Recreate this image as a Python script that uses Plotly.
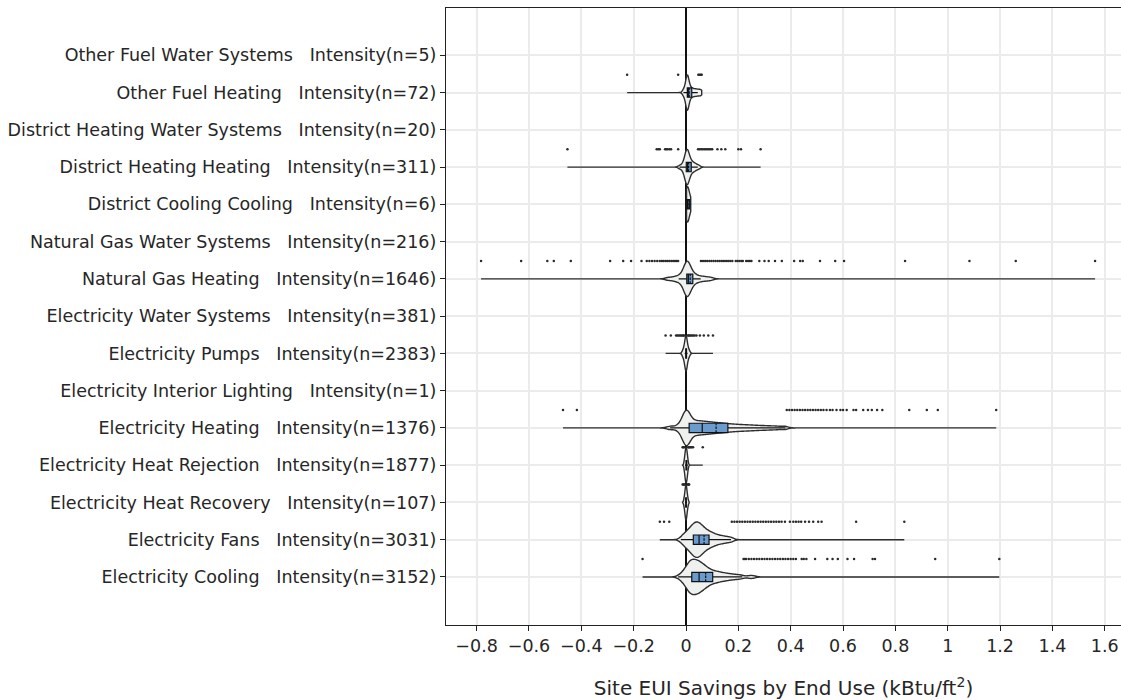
import plotly.graph_objects as go

# ---------------- categories (bottom -> top) ----------------
end_uses = [
    "Electricity Cooling", "Electricity Fans", "Electricity Heat Recovery",
    "Electricity Heat Rejection", "Electricity Heating", "Electricity Interior Lighting",
    "Electricity Pumps", "Electricity Water Systems", "Natural Gas Heating",
    "Natural Gas Water Systems", "District Cooling Cooling", "District Heating Heating",
    "District Heating Water Systems", "Other Fuel Heating", "Other Fuel Water Systems",
]
counts = [3152, 3031, 107, 1877, 1376, 1, 2383, 381, 1646, 216, 6, 311, 20, 72, 5]

# ---------------- representative core samples (kBtu/ft2) ----------------
cooling_core = [-0.02, -0.008, -0.001, 0.004, 0.008, 0.011, 0.014, 0.017, 0.019, 0.021,
                0.024, 0.027, 0.030, 0.033, 0.036, 0.039, 0.042, 0.045, 0.048, 0.051,
                0.054, 0.057, 0.061, 0.065, 0.069, 0.073, 0.078, 0.083, 0.089, 0.096,
                0.104, 0.112, 0.121, 0.131, 0.142, 0.155, 0.170, 0.188, 0.21, 0.25]
fans_core = [-0.015, -0.005, 0.002, 0.008, 0.013, 0.018, 0.022, 0.026, 0.029, 0.032,
             0.035, 0.038, 0.041, 0.044, 0.047, 0.050, 0.053, 0.056, 0.060, 0.064,
             0.068, 0.073, 0.078, 0.084, 0.090, 0.097, 0.105, 0.114, 0.125, 0.138,
             0.153, 0.172]
heat_recovery_core = [-0.006, -0.003, -0.001, 0.0, 0.0, 0.001, 0.003, 0.006]
heat_rejection_core = [-0.005, -0.003, -0.001, 0.0, 0.001, 0.002, 0.004, 0.006]
elec_heating_core = [-0.06, -0.03, -0.015, -0.008, -0.004, -0.002, 0.0, 0.001, 0.002, 0.003,
                     0.004, 0.005, 0.007, 0.015, 0.022, 0.030, 0.037, 0.045, 0.052, 0.060,
                     0.068, 0.076, 0.085, 0.094, 0.103, 0.113, 0.123, 0.134, 0.145, 0.157,
                     0.170, 0.184, 0.199, 0.215, 0.232, 0.250, 0.270, 0.292, 0.316, 0.343,
                     0.375]
lighting_core = [0.0]
pumps_core = [-0.012, -0.007, -0.004, -0.002, -0.001, 0.0, 0.0, 0.001, 0.002, 0.004,
              0.007, 0.012]
elec_water_core = [0.0, 0.0, 0.0]
ng_heating_core = [-0.07, -0.05, -0.036, -0.026, -0.018, -0.012, -0.007, -0.003, -0.001, 0.0,
                   0.001, 0.002, 0.003, 0.004, 0.005, 0.006, 0.007, 0.009, 0.011, 0.013,
                   0.016, 0.019, 0.023, 0.028, 0.034, 0.042, 0.052, 0.064, 0.078, 0.095]
ng_water_core = [0.0, 0.0, 0.0]
dc_cooling_core = [0.002, 0.003, 0.005, 0.007, 0.011, 0.018]
dh_heating_core = [-0.025, -0.015, -0.01, -0.006, -0.004, -0.002, -0.001, 0.0, 0.001, 0.002,
                   0.003, 0.004, 0.005, 0.006, 0.007, 0.008, 0.009, 0.010, 0.012, 0.014,
                   0.016, 0.019, 0.022, 0.026, 0.030, 0.035, 0.041, 0.050]
dh_water_core = [0.0, 0.0, 0.0]
of_heating_core = [-0.01, -0.004, 0.0, 0.002, 0.003, 0.004, 0.005, 0.006, 0.007, 0.008,
                   0.010, 0.013, 0.017, 0.022, 0.028, 0.035, 0.042, 0.050, 0.058]
of_water_core = [0.0, 0.0, 0.0]

# ---------------- outliers ----------------
cooling_out = [-0.166, 0.22, 0.225, 0.23, 0.24, 0.25, 0.26, 0.27, 0.28, 0.29, 0.30, 0.31,
               0.32, 0.33, 0.34, 0.35, 0.36, 0.37, 0.38, 0.39, 0.40, 0.41, 0.42, 0.442,
               0.45, 0.46, 0.493, 0.54, 0.56, 0.58, 0.617, 0.642, 0.713, 0.722, 0.952, 1.197]
fans_out = [-0.10, -0.084, -0.064, 0.175, 0.185, 0.195, 0.205, 0.215, 0.225, 0.235, 0.245,
            0.255, 0.265, 0.275, 0.285, 0.295, 0.305, 0.315, 0.325, 0.335, 0.345, 0.355,
            0.365, 0.378, 0.397, 0.41, 0.42, 0.43, 0.44, 0.455, 0.47, 0.486, 0.505, 0.518,
            0.65, 0.834]
heat_recovery_out = [-0.013, -0.01, -0.008, -0.006, 0.006, 0.008, 0.01, 0.012]
heat_rejection_out = [-0.013, -0.01, -0.007, 0.008, 0.011, 0.014, 0.018, 0.022, 0.027, 0.064]
elec_heating_out = [-0.47, -0.417, 0.385, 0.395, 0.405, 0.415, 0.425, 0.435, 0.445, 0.455,
                    0.465, 0.475, 0.485, 0.495, 0.505, 0.515, 0.525, 0.537, 0.55, 0.56,
                    0.575, 0.59, 0.60, 0.614, 0.64, 0.65, 0.677, 0.695, 0.71, 0.73, 0.75,
                    0.853, 0.92, 0.962, 1.185]
lighting_out = []
pumps_out = [-0.078, -0.058, -0.038, -0.033, -0.028, -0.023, -0.018, -0.014, -0.01, -0.007,
             0.007, 0.01, 0.014, 0.018, 0.023, 0.028, 0.033, 0.04, 0.053, 0.068, 0.085, 0.103]
elec_water_out = []
ng_heating_out = [-0.783, -0.63, -0.53, -0.505, -0.44, -0.29, -0.24, -0.21, -0.17, -0.15,
                  -0.14, -0.13, -0.12, -0.11, -0.10, -0.092, -0.085, -0.077, -0.07, -0.063,
                  -0.056, -0.049, -0.042, -0.036, -0.03, 0.057, 0.065, 0.073, 0.081, 0.089,
                  0.097, 0.105, 0.113, 0.121, 0.129, 0.137, 0.145, 0.153, 0.161, 0.169,
                  0.177, 0.19, 0.197, 0.204, 0.211, 0.217, 0.23, 0.237, 0.244, 0.25, 0.28,
                  0.30, 0.316, 0.34, 0.366, 0.413, 0.436, 0.446, 0.512, 0.57, 0.604, 0.837,
                  1.083, 1.26, 1.563]
ng_water_out = []
dc_cooling_out = []
dh_heating_out = [-0.453, -0.112, -0.106, -0.10, -0.08, -0.075, -0.07, -0.063, -0.057, -0.03,
                  0.046, 0.052, 0.058, 0.064, 0.07, 0.076, 0.082, 0.088, 0.094, 0.10, 0.12,
                  0.135, 0.15, 0.20, 0.21, 0.285]
dh_water_out = []
of_heating_out = [-0.225, -0.03, 0.047, 0.052, 0.057, 0.06]
of_water_out = []

# ---------------- box statistics ----------------
q1 = [0.022, 0.028, -0.001, 0.0, 0.012, 0.0, -0.001, 0.0, 0.003, 0.0, 0.003, 0.001, 0.0, 0.005, 0.0]
median = [0.05, 0.05, 0.0, 0.001, 0.062, 0.0, 0.0, 0.0, 0.009, 0.0, 0.006, 0.006, 0.0, 0.008, 0.0]
q3 = [0.102, 0.088, 0.001, 0.003, 0.16, 0.0, 0.002, 0.0, 0.026, 0.0, 0.014, 0.02, 0.0, 0.022, 0.0]
means = [0.075, 0.069, 0.0, 0.002, 0.115, 0.0, 0.001, 0.0, 0.016, 0.0, 0.008, 0.01, 0.0, 0.012, 0.0]
low_whisker = [-0.03, -0.02, -0.004, -0.004, -0.061, 0.0, -0.005, 0.0, -0.028, 0.0, 0.002,
               -0.025, 0.0, -0.01, 0.0]
high_whisker = [0.215, 0.172, 0.004, 0.007, 0.38, 0.0, 0.006, 0.0, 0.056, 0.0, 0.018, 0.045,
                0.0, 0.045, 0.0]
bandwidths = [0.014, 0.012, 0.003, 0.003, 0.014, 0.0, 0.004, 0.0, 0.011, 0.0, 0.006, 0.006,
              0.0, 0.005, 0.0]

core_lists = [cooling_core, fans_core, heat_recovery_core, heat_rejection_core,
              elec_heating_core, lighting_core, pumps_core, elec_water_core, ng_heating_core,
              ng_water_core, dc_cooling_core, dh_heating_core, dh_water_core, of_heating_core,
              of_water_core]
outlier_lists = [cooling_out, fans_out, heat_recovery_out, heat_rejection_out, elec_heating_out,
                 lighting_out, pumps_out, elec_water_out, ng_heating_out, ng_water_out,
                 dc_cooling_out, dh_heating_out, dh_water_out, of_heating_out, of_water_out]

labels = [f"{name}   Intensity(n={n})" for name, n in zip(end_uses, counts)]

fig = go.Figure()
for i, (core, outs) in enumerate(zip(core_lists, outlier_lists)):
    allv = core + outs
    lo, hi = min(allv), max(allv)
    if hi > lo:
        fig.add_trace(go.Violin(
            x=core, y0=i, orientation="h", width=0.95, side="both",
            spanmode="manual", span=[lo, hi], bandwidth=bandwidths[i],
            points=False, box_visible=False, meanline_visible=False,
            fillcolor="#eff1ef", line=dict(color="#2e2e2e", width=1.4),
            scalemode="width", hoverinfo="skip", showlegend=False))
    fig.add_trace(go.Box(
        y=[i], q1=[q1[i]], median=[median[i]], q3=[q3[i]], mean=[means[i]],
        lowerfence=[low_whisker[i]], upperfence=[high_whisker[i]],
        orientation="h", width=0.25, whiskerwidth=0, boxmean=True, boxpoints=False,
        fillcolor="#6a9bcf", line=dict(color="#111111", width=1.2),
        hoverinfo="skip", showlegend=False))
    if outs:
        fig.add_trace(go.Scatter(
            x=outs, y=[i + 0.48] * len(outs), mode="markers",
            marker=dict(size=2.5, color="#2a2a2a", line=dict(width=0)),
            hoverinfo="skip", showlegend=False))

font_family = "DejaVu Sans"
fig.update_layout(
    width=1121, height=700,
    margin=dict(l=446, r=0, t=8, b=75),
    paper_bgcolor="white", plot_bgcolor="white",
    violinmode="overlay", boxmode="overlay",
    font=dict(family=font_family, size=16, color="#262626"),
    showlegend=False,
)
fig.update_xaxes(
    range=[-0.917, 1.662], tick0=0, dtick=0.2,
    showgrid=True, gridcolor="#ebebeb", gridwidth=1.5,
    zeroline=True, zerolinecolor="#111111", zerolinewidth=1.5,
    showline=True, linecolor="#222222", linewidth=1.3, mirror=True,
    ticks="outside", ticklen=5, tickcolor="#222222",
    tickfont=dict(size=17.5),
    title=dict(text="Site EUI Savings by End Use (kBtu/ft<sup>2</sup>)",
               font=dict(size=20), standoff=26),
)
fig.update_yaxes(
    type="linear", range=[-1.29, 15.27],
    tickmode="array", tickvals=list(range(len(labels))), ticktext=labels,
    showgrid=True, gridcolor="#ebebeb", gridwidth=1.5, zeroline=False,
    showline=True, linecolor="#222222", linewidth=1.3, mirror=True,
    ticks="outside", ticklen=5, tickcolor="#222222",
    tickfont=dict(size=17.5),
)

fig.write_html("out.html")
